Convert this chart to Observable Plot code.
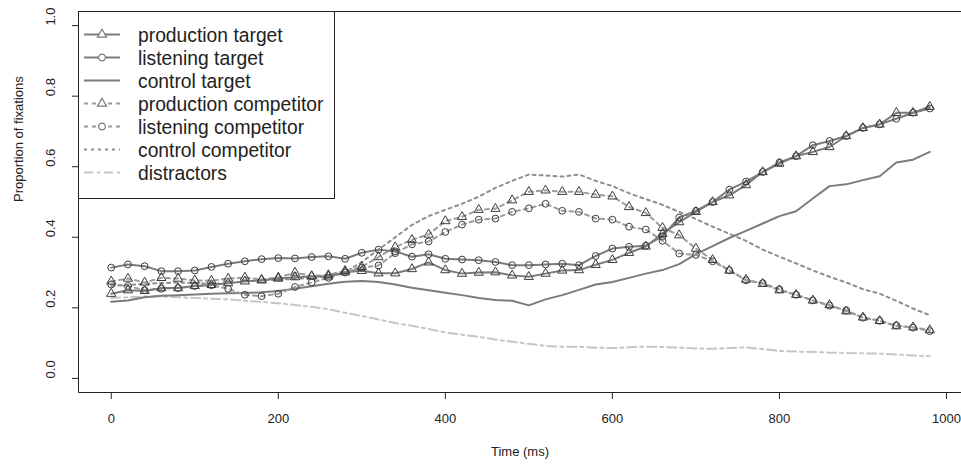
<!DOCTYPE html>
<html><head><meta charset="utf-8">
<script src="https://cdn.jsdelivr.net/npm/d3@7"></script>
<script src="https://cdn.jsdelivr.net/npm/@observablehq/plot@0.6"></script>
<style>
html,body{margin:0;padding:0;background:#fff;overflow:hidden;font-family:"Liberation Sans",Arial,sans-serif;}
#chart{width:961px;height:465px;overflow:hidden;}
</style>
</head><body><div id="chart"></div>
<script>
const time = [0,20,40,60,80,100,120,140,160,180,200,220,240,260,280,300,320,340,360,380,400,420,440,460,480,500,520,540,560,580,600,620,640,660,680,700,720,740,760,780,800,820,840,860,880,900,920,940,960,980];

const productionTarget = [
0.240,0.250,0.248,0.256,0.256,0.262,0.265,0.270,0.275,0.278,
0.283,0.287,0.289,0.289,0.301,0.305,0.298,0.298,0.310,0.329,
0.307,0.297,0.300,0.301,0.292,0.288,0.297,0.306,0.307,0.322,
0.336,0.356,0.374,0.410,0.443,0.472,0.500,0.519,0.548,0.585,
0.609,0.630,0.642,0.656,0.687,0.710,0.720,0.753,0.753,0.770];

const listeningTarget = [
0.314,0.323,0.318,0.304,0.304,0.306,0.316,0.325,0.332,0.338,
0.341,0.340,0.344,0.346,0.339,0.356,0.365,0.360,0.345,0.352,
0.339,0.337,0.335,0.330,0.321,0.321,0.323,0.325,0.321,0.347,
0.368,0.373,0.376,0.403,0.456,0.475,0.500,0.535,0.558,0.585,
0.612,0.630,0.661,0.673,0.687,0.710,0.720,0.736,0.753,0.765];

const controlTarget = [
0.217,0.221,0.230,0.234,0.236,0.238,0.240,0.241,0.242,0.244,
0.248,0.254,0.261,0.268,0.274,0.276,0.273,0.266,0.257,0.250,
0.243,0.236,0.228,0.222,0.220,0.207,0.224,0.236,0.251,0.266,
0.273,0.285,0.297,0.307,0.324,0.352,0.375,0.398,0.418,0.439,
0.460,0.474,0.510,0.545,0.550,0.562,0.573,0.612,0.620,0.642];

const productionCompetitor = [
0.275,0.283,0.272,0.285,0.283,0.278,0.277,0.283,0.286,0.280,
0.286,0.300,0.290,0.293,0.305,0.316,0.344,0.372,0.393,0.408,
0.446,0.458,0.478,0.481,0.505,0.529,0.533,0.529,0.529,0.521,
0.516,0.486,0.469,0.427,0.406,0.368,0.336,0.306,0.280,0.268,
0.250,0.237,0.221,0.208,0.190,0.173,0.163,0.148,0.145,0.137];

const listeningCompetitor = [
0.266,0.262,0.250,0.254,0.256,0.262,0.264,0.254,0.237,0.233,
0.240,0.259,0.272,0.285,0.300,0.314,0.320,0.355,0.380,0.388,
0.415,0.436,0.450,0.453,0.472,0.482,0.495,0.475,0.472,0.453,
0.450,0.430,0.422,0.390,0.354,0.350,0.332,0.306,0.278,0.270,
0.252,0.237,0.221,0.206,0.193,0.172,0.163,0.150,0.144,0.134];

const controlCompetitor = [
0.262,0.265,0.268,0.270,0.272,0.270,0.268,0.270,0.275,0.278,
0.280,0.282,0.285,0.290,0.300,0.330,0.365,0.400,0.435,0.460,
0.478,0.495,0.515,0.540,0.560,0.578,0.575,0.572,0.578,0.560,
0.545,0.525,0.508,0.492,0.472,0.452,0.430,0.410,0.390,0.365,
0.345,0.326,0.306,0.288,0.272,0.253,0.240,0.220,0.198,0.179];

const distractors = [
0.228,0.230,0.232,0.232,0.230,0.228,0.226,0.224,0.220,0.217,
0.213,0.208,0.203,0.196,0.186,0.177,0.167,0.157,0.149,0.140,
0.130,0.124,0.118,0.110,0.104,0.098,0.092,0.090,0.090,0.087,
0.086,0.088,0.090,0.089,0.087,0.085,0.084,0.086,0.088,0.083,
0.078,0.076,0.075,0.073,0.072,0.071,0.070,0.068,0.065,0.063];

const seriesNames = ["production target","listening target","control target","production competitor","listening competitor","control competitor","distractors"];
const xTicks = [0,200,400,600,800,1000];
const yTicks = [0.0,0.2,0.4,0.6,0.8,1.0];
const xTitle = "Time (ms)";
const yTitle = "Proportion of fixations";

const styles = {
  "production target":   {values: productionTarget,   stroke:"#7b7b7b", dash:null,      symbol:"triangle"},
  "listening target":    {values: listeningTarget,    stroke:"#7b7b7b", dash:null,      symbol:"circle"},
  "control target":      {values: controlTarget,      stroke:"#7b7b7b", dash:null,      symbol:null},
  "production competitor":{values: productionCompetitor,stroke:"#9c9c9c", dash:"4,4",  symbol:"triangle"},
  "listening competitor":{values: listeningCompetitor,stroke:"#9c9c9c", dash:"4,4",    symbol:"circle"},
  "control competitor":  {values: controlCompetitor,  stroke:"#8e8e8e", dash:"3,4",     symbol:null},
  "distractors":         {values: distractors,        stroke:"#c6c6c6", dash:"9,4,3,4", symbol:null}
};

const marks = [];
const drawOrder = ["distractors","control competitor","control target","listening competitor","production competitor","listening target","production target"];
for (const name of drawOrder) {
  const s = styles[name];
  const rows = time.map((t,i)=>({t, v:s.values[i]}));
  marks.push(Plot.line(rows, {x:"t", y:"v", stroke:s.stroke, strokeWidth:2, strokeDasharray:s.dash || undefined}));
}
for (const name of drawOrder) {
  const s = styles[name];
  if (!s.symbol) continue;
  const rows = time.map((t,i)=>({t, v:s.values[i]}));
  marks.push(Plot.dot(rows, {x:"t", y:"v", symbol:s.symbol, r:3.4, stroke:"#3c3c3c", strokeWidth:1, fill:"none"}));
}
marks.push(Plot.text(yTicks, {y:d=>d, text:d=>d.toFixed(1), frameAnchor:"left", dx:-28, rotate:-90, fontSize:13, fill:"#222"}));
marks.push(Plot.text([yTitle], {text:d=>d, frameAnchor:"left", dx:-60, rotate:-90, fontSize:13, fill:"#222"}));
marks.push(Plot.text([xTitle], {text:d=>d, frameAnchor:"bottom", dy:63, fontSize:13, fill:"#222"}));

const chart = Plot.plot({
  width: 961, height: 465,
  marginLeft: 78, marginRight: 0, marginTop: 11, marginBottom: 73,
  style: {fontFamily:'"Liberation Sans", Arial, sans-serif', fontSize:"13px", color:"#222", background:"#fff"},
  x: {domain:[-39.2, 1018], ticks:xTicks, tickSize:7, tickPadding:14, tickFormat:d3.format("d"), label:null},
  y: {domain:[-0.04, 1.04], ticks:yTicks, tickSize:6, tickFormat:()=>"", label:null},
  marks
});
document.getElementById("chart").appendChild(chart);

const svg = d3.select(chart);
// plot box: left, top and bottom edges (right edge lies just past the picture)
const box = svg.append("g").attr("stroke","#222").attr("stroke-width",1).attr("fill","none");
box.append("path").attr("d","M975,11.5H78.5V392.5H975");

// legend (inside the plot, top-left corner)
const lg = svg.append("g").attr("font-family",'"Liberation Sans", Arial, sans-serif').attr("text-anchor","start");
lg.append("rect").attr("x",78.5).attr("y",11.5).attr("width",256).attr("height",187)
  .attr("fill","#fff").attr("stroke","#222").attr("stroke-width",1);
seriesNames.forEach((name,i)=>{
  const s = styles[name];
  const y = 34.5 + i*23;
  lg.append("line").attr("x1",84).attr("x2",120).attr("y1",y).attr("y2",y)
    .attr("stroke",s.stroke).attr("stroke-width",2).attr("stroke-dasharray",s.dash||null);
  if (s.symbol) {
    const sym = s.symbol==="triangle" ? d3.symbolTriangle : d3.symbolCircle;
    lg.append("path").attr("d",d3.symbol(sym, Math.PI*3.4*3.4)())
      .attr("transform",`translate(102,${y})`).attr("fill","#fff").attr("stroke","#7b7b7b").attr("stroke-width",1.2);
  }
  lg.append("text").attr("x",138).attr("y",y+1).attr("dy","0.35em").attr("font-size",19.3).attr("fill","#222")
    .attr("text-anchor","start").text(name);
});
</script>
</body></html>
